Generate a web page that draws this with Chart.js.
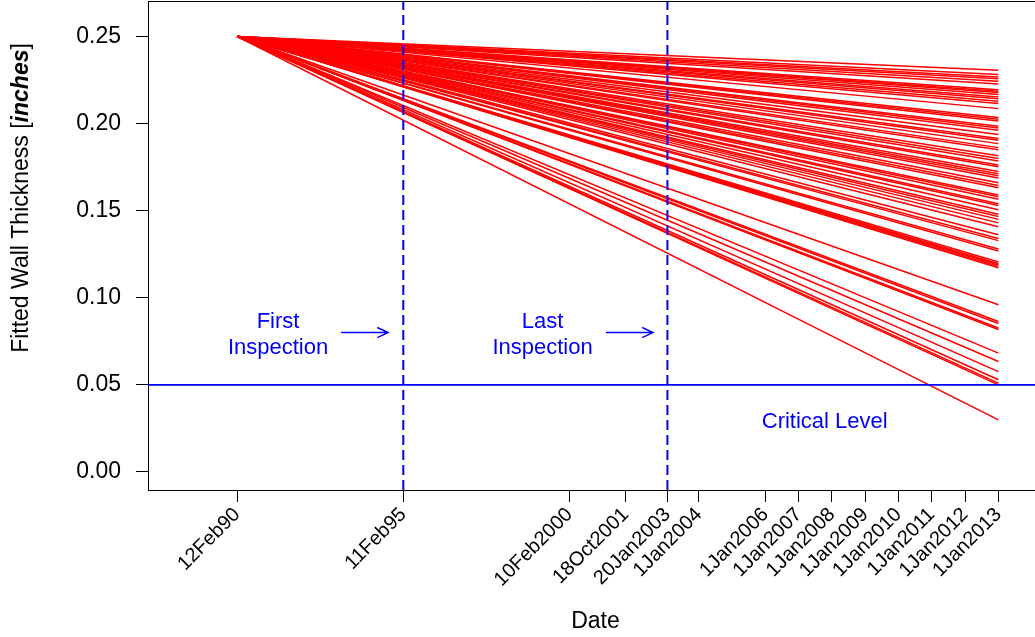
<!DOCTYPE html>
<html>
<head>
<meta charset="utf-8">
<script src="https://cdn.jsdelivr.net/npm/chart.js@4.4.1/dist/chart.umd.min.js"></script>
<style>
  html, body { margin: 0; padding: 0; background: #fff; overflow: hidden; }
  canvas { display: block; }
</style>
</head>
<body>
<canvas id="chart" width="1035" height="637"></canvas>
<script>
// every fitted line starts at the same point and runs to 1Jan2013
const startDate = "1990-02-12"
const startThickness = 0.25
const endDate = "2013-01-01"
const endThickness = [
  0.2306, 0.2282, 0.2268, 0.2257, 0.2243, 0.2228, 0.2195, 0.2186, 0.2178, 0.2167,
  0.2153, 0.2142, 0.2128, 0.2115, 0.2086, 0.2035, 0.2025, 0.2015, 0.1985, 0.1975,
  0.1962, 0.1937, 0.1915, 0.1905, 0.1885, 0.1862, 0.1850, 0.1815, 0.1800, 0.1785,
  0.1762, 0.1752, 0.1725, 0.1712, 0.1700, 0.1688, 0.1660, 0.1645, 0.1632, 0.1590,
  0.1580, 0.1565, 0.1540, 0.1530, 0.1505, 0.1480, 0.1466, 0.1450, 0.1430, 0.1408,
  0.1362, 0.1340, 0.1328, 0.1280, 0.1268, 0.1205, 0.1195, 0.1188, 0.1180, 0.1172,
  0.0960, 0.0864, 0.0852, 0.0826, 0.0818, 0.0682, 0.0634, 0.0576, 0.0529, 0.0510,
  0.0500, 0.0299
]

const tickDates = [
  "1990-02-12", "1995-02-11", "2000-02-10", "2001-10-18", "2003-01-20", "2004-01-01",
  "2006-01-01", "2007-01-01", "2008-01-01", "2009-01-01", "2010-01-01", "2011-01-01",
  "2012-01-01", "2013-01-01"
]
const tickLabels = [
  "12Feb90", "11Feb95", "10Feb2000", "18Oct2001", "20Jan2003", "1Jan2004",
  "1Jan2006", "1Jan2007", "1Jan2008", "1Jan2009", "1Jan2010", "1Jan2011",
  "1Jan2012", "1Jan2013"
]
const yTicks = [0, 0.05, 0.10, 0.15, 0.20, 0.25]

const inspectionDates = ["1995-02-11", "2003-01-20"]
const criticalLevel = 0.05
const xLimits = ["1987-06-10", "2014-02-07"]
const yLimits = [-0.0104, 0.2704]

// annotations, anchored in data units
const notes = [
  { lines: ["First", "Inspection"], date: "1991-05-08", y: 0.08 },
  { lines: ["Last", "Inspection"], date: "1999-04-20", y: 0.08 },
  { lines: ["Critical Level"], date: "2007-10-13", y: 0.03 }
]
const arrows = [
  { from: "1993-03-30", to: "1994-08-28", y: 0.08 },
  { from: "2001-03-17", to: "2002-08-15", y: 0.08 }
]

const FONT = '"Liberation Sans", Arial, Helvetica, sans-serif'
const BLUE = "#0000ff"
const day = s => Date.parse(s + "T00:00:00Z") / 864e5

const blueSets = [
  ...inspectionDates.map(d => ({
    data: [{ x: day(d), y: yLimits[0] }, { x: day(d), y: yLimits[1] }],
    borderColor: BLUE, borderWidth: 2, borderDash: [10, 5], pointRadius: 0
  })),
  {
    data: [{ x: day(xLimits[0]), y: criticalLevel }, { x: day(xLimits[1]), y: criticalLevel }],
    borderColor: BLUE, borderWidth: 1.8, pointRadius: 0
  }
]

const redSets = endThickness.map(v => ({
  data: [{ x: day(startDate), y: startThickness }, { x: day(endDate), y: v }],
  borderColor: "#ff0000", borderWidth: 1.5, pointRadius: 0
}))

const overlay = {
  id: "overlay",
  afterDatasetsDraw(chart) {
    const { ctx, chartArea: a, scales: { x, y } } = chart
    ctx.save()
    // top edge of the plot box
    ctx.strokeStyle = "#000"
    ctx.lineWidth = 1
    ctx.beginPath()
    ctx.moveTo(a.left, a.top + 0.5)
    ctx.lineTo(a.right, a.top + 0.5)
    ctx.stroke()

    ctx.fillStyle = BLUE
    ctx.strokeStyle = BLUE
    ctx.font = "22px " + FONT
    ctx.textAlign = "center"
    ctx.textBaseline = "middle"
    notes.forEach(n => {
      const px = x.getPixelForValue(day(n.date))
      const py = y.getPixelForValue(n.y) + 2.5
      const lh = 26
      const top = py - (n.lines.length - 1) * lh / 2
      n.lines.forEach((t, i) => ctx.fillText(t, px, top + i * lh))
    })

    ctx.lineWidth = 1.5
    arrows.forEach(ar => {
      const x1 = x.getPixelForValue(day(ar.from))
      const x2 = x.getPixelForValue(day(ar.to))
      const py = y.getPixelForValue(ar.y)
      const hl = 12, ang = 25 * Math.PI / 180
      ctx.beginPath()
      ctx.moveTo(x1, py)
      ctx.lineTo(x2, py)
      ctx.moveTo(x2 - hl * Math.cos(ang), py - hl * Math.sin(ang))
      ctx.lineTo(x2, py)
      ctx.lineTo(x2 - hl * Math.cos(ang), py + hl * Math.sin(ang))
      ctx.stroke()
    })
    ctx.restore()
  },
  afterDraw(chart) {
    const { ctx, chartArea: a } = chart
    ctx.save()
    ctx.fillStyle = "#000"
    ctx.textBaseline = "alphabetic"

    // x title
    ctx.font = "23px " + FONT
    ctx.textAlign = "center"
    ctx.fillText("Date", (a.left + a.right) / 2 + 4, 628)

    // y title with bold italic unit
    const parts = [
      ["Fitted Wall Thickness [", "23px " + FONT],
      ["inches", "italic bold 23px " + FONT],
      ["]", "23px " + FONT]
    ]
    let total = 0
    parts.forEach(p => { ctx.font = p[1]; total += ctx.measureText(p[0]).width })
    ctx.translate(28, 198)
    ctx.rotate(-Math.PI / 2)
    ctx.textAlign = "left"
    let cx = -total / 2
    parts.forEach(p => {
      ctx.font = p[1]
      ctx.fillText(p[0], cx, 0)
      cx += ctx.measureText(p[0]).width
    })
    ctx.restore()
  }
}

new Chart(document.getElementById("chart"), {
  type: "line",
  data: { datasets: [...blueSets, ...redSets] },
  options: {
    responsive: false,
    animation: false,
    events: [],
    layout: { padding: { top: 1, left: 0, right: 0, bottom: 0 } },
    plugins: {
      legend: { display: false },
      tooltip: { enabled: false }
    },
    scales: {
      x: {
        type: "linear",
        min: day(xLimits[0]),
        max: day(xLimits[1]),
        afterBuildTicks: s => { s.ticks = tickDates.map(d => ({ value: day(d) })) },
        afterFit: s => { s.height = 147; s.paddingLeft = 0; s.paddingRight = 0 },
        ticks: {
          autoSkip: false,
          minRotation: 45,
          maxRotation: 45,
          padding: 1,
          color: "#000",
          font: { size: 20, family: FONT },
          callback: (v, i) => tickLabels[i]
        },
        grid: { drawOnChartArea: false, tickLength: 12, color: "#000", tickColor: "#000" },
        border: { color: "#000", width: 1 }
      },
      y: {
        min: yLimits[0],
        max: yLimits[1],
        afterBuildTicks: s => { s.ticks = yTicks.map(v => ({ value: v })) },
        afterFit: s => { s.width = 148; s.paddingTop = 0; s.paddingBottom = 0 },
        ticks: {
          padding: 15,
          color: "#000",
          font: { size: 23, family: FONT },
          callback: v => v.toFixed(2)
        },
        grid: { drawOnChartArea: false, tickLength: 12, color: "#000", tickColor: "#000" },
        border: { color: "#000", width: 1 }
      }
    }
  },
  plugins: [overlay]
})
</script>
</body>
</html>
